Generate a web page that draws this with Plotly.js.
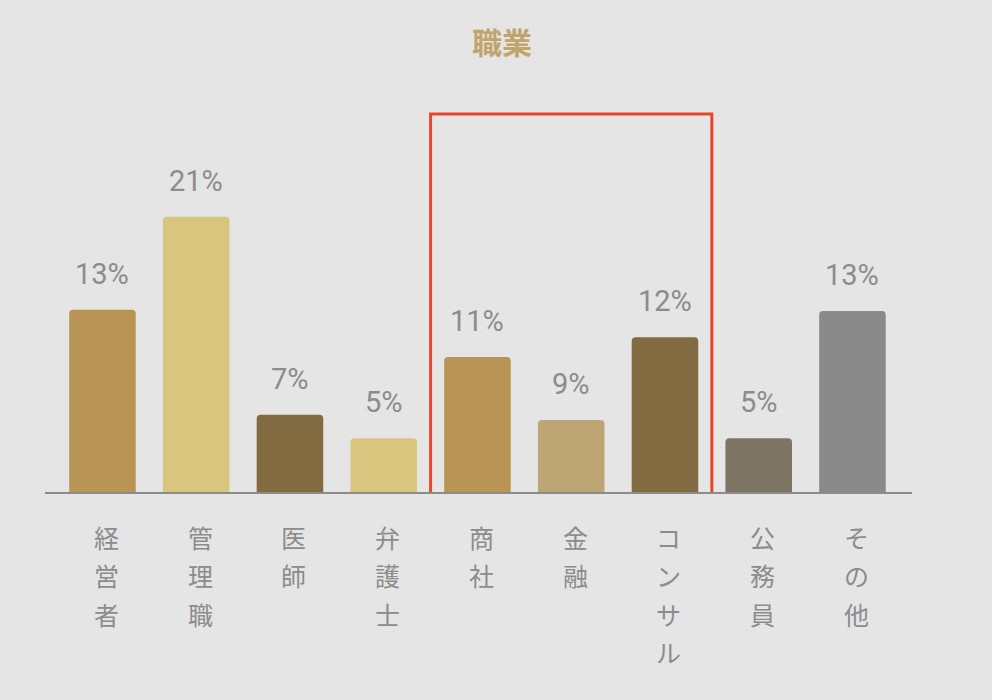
<!DOCTYPE html>
<html>
<head>
<meta charset="utf-8">
<script src="https://cdn.plot.ly/plotly-3.0.1.min.js"></script>
<style>
  html, body { margin: 0; padding: 0; background: #e5e5e5; }
  #chart { width: 992px; height: 700px; }
</style>
</head>
<body>
<div id="chart"></div>
<script>
const categories = ["経営者", "管理職", "医師", "弁護士", "商社", "金融", "コンサル", "公務員", "その他"];
const barHeights = [13.9, 21.0, 5.9, 4.1, 10.3, 5.5, 11.8, 4.1, 13.8];
const valueLabels = ["13%", "21%", "7%", "5%", "11%", "9%", "12%", "5%", "13%"];
const barColors = ["#b89455", "#d9c57e", "#836b41", "#d9c57e", "#b89455", "#bda673", "#836b41", "#7d7464", "#8a8a8a"];
const highlighted = ["商社", "金融", "コンサル"];

const FONT = "Roboto, 'Noto Sans CJK JP', sans-serif";
const GREY = "#8c8c8c";

const xs = categories.map((_, i) => i);

// value labels above each bar
const valueNotes = barHeights.map((h, i) => ({
  x: i, y: h, xref: "x", yref: "y",
  text: valueLabels[i], showarrow: false,
  yanchor: "middle", yshift: 36,
  font: { family: FONT, size: 29, color: GREY },
}));

// category names written top-to-bottom, one character per line
const charNotes = [];
categories.forEach((name, i) => {
  [...name].forEach((ch, j) => {
    charNotes.push({
      x: i, y: 0, xref: "x", yref: "y",
      text: ch, showarrow: false,
      yanchor: "middle", xshift: 4, yshift: -47 - j * 38.5,
      font: { family: FONT, size: 25, color: GREY },
    });
  });
});

const first = categories.indexOf(highlighted[0]);
const last = categories.indexOf(highlighted[highlighted.length - 1]);

Plotly.newPlot(
  "chart",
  [
    {
      type: "bar",
      x: xs,
      y: barHeights,
      width: 0.71,
      marker: { color: barColors, cornerradius: 4 },
      hoverinfo: "none",
    },
  ],
  {
    width: 992,
    height: 700,
    paper_bgcolor: "#e5e5e5",
    plot_bgcolor: "#e5e5e5",
    margin: { l: 45, r: 80, t: 100, b: 208, pad: 0 },
    showlegend: false,
    title: {
      text: "<b>職業</b>",
      x: 0.506, xref: "container", xanchor: "center",
      y: 1 - 43 / 700, yref: "container", yanchor: "middle",
      font: { family: FONT, size: 30, color: "#bfa46c" },
    },
    xaxis: {
      range: [-0.613, 8.635],
      showticklabels: false,
      showgrid: false,
      zeroline: false,
      showline: true,
      linecolor: "#8c8c8c",
      linewidth: 2,
      ticks: "",
      fixedrange: true,
    },
    yaxis: {
      range: [0, 29.9],
      visible: false,
      fixedrange: true,
    },
    annotations: valueNotes.concat(charNotes),
    shapes: [
      {
        type: "rect",
        xref: "x", x0: first - 0.5, x1: last + 0.5,
        yref: "y", ysizemode: "pixel", yanchor: 0, y0: -197, y1: 378,
        line: { color: "#e8452c", width: 3 },
        fillcolor: "rgba(0,0,0,0)",
      },
    ],
  },
  { displayModeBar: false, staticPlot: true }
);
</script>
</body>
</html>
